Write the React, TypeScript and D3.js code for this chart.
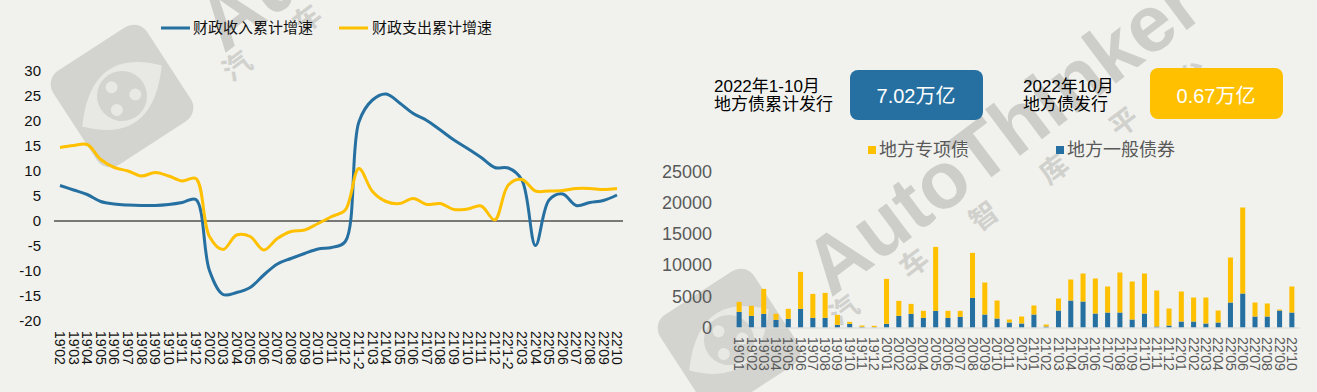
import React from "react";
import * as d3 from "d3";

// ---------- Left chart data ----------
const leftLabels = [
  "19'02","19'03","19'04","19'05","19'06","19'07","19'08","19'09","19'10","19'11","19'12",
  "20'02","20'03","20'04","20'05","20'06","20'07","20'08","20'09","20'10","20'11","20'12",
  "21'1-2","21'03","21'04","21'05","21'06","21'07","21'08","21'09","21'10","21'11","21'12",
  "22'1-2","22'03","22'04","22'05","22'06","22'07","22'08","22'09","22'10",
];
const revenueGrowth = [
  7.1, 6.2, 5.3, 3.9, 3.4, 3.2, 3.1, 3.1, 3.3, 3.7, 4.3,
  -9.9, -14.7, -14.3, -13.3, -10.8, -8.6, -7.5, -6.5, -5.6, -5.3, -4.1,
  19.8, 24.2, 25.4, 23.6, 21.5, 20.1, 18.2, 16.2, 14.5, 12.7, 10.7,
  10.6, 8.2, -4.9, 4.2, 5.4, 3.1, 3.7, 4.1, 5.2,
];
const expenditureGrowth = [
  14.7, 15.1, 15.3, 12.3, 10.7, 10.0, 9.0, 9.7, 9.0, 8.0, 8.5,
  -3.1, -5.7, -2.8, -3.1, -5.8, -3.5, -2.1, -1.8, -0.5, 0.9, 2.2,
  10.5, 5.9, 3.9, 3.5, 4.5, 3.3, 3.5, 2.3, 2.4, 3.0, 0.2,
  7.2, 8.3, 6.0, 6.0, 6.1, 6.5, 6.5, 6.3, 6.5,
];
const leftTicks = [30, 25, 20, 15, 10, 5, 0, -5, -10, -15, -20];
const leftSeriesNames = ["财政收入累计增速", "财政支出累计增速"];

// ---------- Right chart data ----------
const rightLabels = [
  "19'01","19'02","19'03","19'04","19'05","19'06","19'07","19'08","19'09","19'10","19'11","19'12",
  "20'01","20'02","20'03","20'04","20'05","20'06","20'07","20'08","20'09","20'10","20'11","20'12",
  "21'01","21'02","21'03","21'04","21'05","21'06","21'07","21'08","21'09","21'10","21'11","21'12",
  "22'01","22'02","22'03","22'04","22'05","22'06","22'07","22'08","22'09","22'10",
];
const generalBonds = [
  2500, 1870, 2190, 1230, 1390, 2990, 1550, 1550, 430, 590, 110, 50,
  590, 1870, 2190, 1550, 2670, 1550, 1710, 4740, 2080, 1440, 800, 640,
  2080, 160, 2720, 4320, 4160, 2240, 2400, 2400, 1280, 2240, 160, 320,
  960, 960, 640, 800, 4000, 5440, 1760, 1760, 2720, 2400,
];
const specialBonds = [
  1600, 1600, 3990, 960, 1600, 5910, 3830, 3990, 1600, 310, 210, 220,
  7190, 2390, 1590, 1120, 10230, 1120, 960, 7200, 5120, 2880, 480, 1120,
  1440, 320, 1920, 3360, 4480, 5600, 4160, 6400, 6080, 6400, 5760, 2720,
  4800, 3840, 4160, 1920, 7200, 13760, 2240, 2080, 160, 4160,
];
const rightTicks = [0, 5000, 10000, 15000, 20000, 25000];
const rightSeriesNames = ["地方专项债", "地方一般债券"];
const summaryLabels = [["2022年1-10月", "地方债累计发行"], ["2022年10月", "地方债发行"]];
const summaryValues = ["7.02万亿", "0.67万亿"];

const BLUE = "#2570A1";
const YELLOW = "#FFC000";
const BG = "#F1F2EE";
const FONT = "'Liberation Sans', Arial, 'Noto Sans CJK SC', sans-serif";
const NARROW = "'Liberation Sans Narrow', 'Liberation Sans', Arial, sans-serif";

function Logo({ cx, cy }: { cx: number; cy: number }) {
  return (
    <g transform={`translate(${cx},${cy}) rotate(-33)`}>
      <rect x={-56} y={-56} width={112} height={112} rx={16} fill="#d3d3cf" />
      <path d="M-50,4 Q0,-58 50,-4 Q0,58 -50,4 Z" fill="#e8e8e4" />
      <circle cx={0} cy={0} r={25} fill="#d3d3cf" />
      <circle cx={-4} cy={-13} r={6} fill="#e8e8e4" />
      <circle cx={12} cy={6} r={6} fill="#e8e8e4" />
      <circle cx={-12} cy={9} r={6} fill="#e8e8e4" />
    </g>
  );
}

function Watermark({ dx, dy, word, chars }: { dx: number; dy: number; word: string; chars: string[] }) {
  return (
    <g transform={`translate(${dx},${dy})`}>
      <text
        transform="translate(831,298) rotate(-37)"
        fontFamily={FONT}
        fontWeight="bold"
        fontSize={80}
        fill="#cdcdc9"
      >
        {word}
      </text>
      {chars.map((c, i) => (
        <text
          key={c}
          transform={`translate(${850 + i * 70},${318 - i * 47}) rotate(-37)`}
          fontFamily={FONT}
          fontWeight="bold"
          fontSize={28}
          fill="#d0d0cc"
          textAnchor="middle"
        >
          {c}
        </text>
      ))}
    </g>
  );
}

export default function App() {
  // Left chart scales
  const xL = d3.scalePoint<string>().domain(leftLabels).range([60, 617]);
  const yL = d3.scaleLinear().domain([-20, 30]).range([321, 71]);
  const line = d3
    .line<number>()
    .x((_, i) => xL(leftLabels[i]) as number)
    .y((d) => yL(d))
    .curve(d3.curveCatmullRom.alpha(0.5));

  // Right chart scales
  const xR = d3.scaleBand<string>().domain(rightLabels).range([733, 1298]).paddingInner(0.59).paddingOuter(0.295);
  const yR = d3.scaleLinear().domain([0, 25000]).range([327.5, 171.25]);
  const stackData = rightLabels.map((l, i) => ({ label: l, general: generalBonds[i], special: specialBonds[i] }));
  const stacked = d3.stack<any>().keys(["general", "special"])(stackData);
  const stackColors: Record<string, string> = { general: BLUE, special: YELLOW };

  return (
    <svg
      width={1317}
      height={392}
      style={{ position: "absolute", left: 0, top: 0, display: "block" }}
      fontFamily={FONT}
    >
      <rect x={0} y={0} width={1317} height={392} fill={BG} />

      {/* watermarks */}
      <Logo cx={122} cy={96} />
      <Logo cx={729} cy={340} />
      <Watermark dx={-607} dy={-244} word="Au" chars={["汽", "车"]} />
      <Watermark dx={0} dy={0} word="AutoThinker" chars={["汽", "车", "智", "库", "平", "台"]} />

      {/* ---------- Left chart ---------- */}
      <g>
        <line x1={161} x2={190} y1={28} y2={28} stroke={BLUE} strokeWidth={3} />
        <text x={193} y={28} dy="0.35em" fontSize={15} fill="#111">{leftSeriesNames[0]}</text>
        <line x1={339} x2={368} y1={28} y2={28} stroke={YELLOW} strokeWidth={3} />
        <text x={372} y={28} dy="0.35em" fontSize={15} fill="#111">{leftSeriesNames[1]}</text>

        {leftTicks.map((t) => (
          <text key={t} x={41} y={yL(t)} dy="0.35em" textAnchor="end" fontSize={15} fontFamily={NARROW} fill="#111">
            {t}
          </text>
        ))}
        <line x1={54} x2={623} y1={yL(0)} y2={yL(0)} stroke="#000" strokeWidth={1} />
        {leftLabels.map((l) => (
          <text
            key={l}
            transform={`translate(${xL(l)},331) rotate(90)`}
            dy="0.35em"
            fontSize={14}
            fontFamily={NARROW}
            fill="#111"
          >
            {l}
          </text>
        ))}
        <path d={line(revenueGrowth) || ""} fill="none" stroke={BLUE} strokeWidth={3} strokeLinejoin="round" />
        <path d={line(expenditureGrowth) || ""} fill="none" stroke={YELLOW} strokeWidth={3} strokeLinejoin="round" />
      </g>

      {/* ---------- Right summary ---------- */}
      <g>
        <text x={714} y={86} dy="0.35em" fontSize={17} fill="#000">{summaryLabels[0][0]}</text>
        <text x={714} y={104} dy="0.35em" fontSize={17} fill="#000">{summaryLabels[0][1]}</text>
        <rect x={850} y={70} width={133} height={50} rx={8} fill={BLUE} />
        <text x={916} y={96} dy="0.35em" textAnchor="middle" fontSize={20} fill="#fff">{summaryValues[0]}</text>

        <text x={1023} y={86} dy="0.35em" fontSize={17} fill="#000">{summaryLabels[1][0]}</text>
        <text x={1023} y={104} dy="0.35em" fontSize={17} fill="#000">{summaryLabels[1][1]}</text>
        <rect x={1150} y={68} width={133} height={51} rx={8} fill={YELLOW} />
        <text x={1216} y={96} dy="0.35em" textAnchor="middle" fontSize={20} fill="#fff">{summaryValues[1]}</text>
      </g>

      {/* ---------- Right chart ---------- */}
      <g>
        <rect x={868} y={146} width={8} height={8} fill={YELLOW} />
        <text x={879} y={150} dy="0.35em" fontSize={18} fill="#595959">{rightSeriesNames[0]}</text>
        <rect x={1056} y={146} width={8} height={8} fill={BLUE} />
        <text x={1067} y={150} dy="0.35em" fontSize={18} fill="#595959">{rightSeriesNames[1]}</text>

        {rightTicks.map((t) => (
          <text key={t} x={712} y={yR(t)} dy="0.35em" textAnchor="end" fontSize={18} fill="#595959">
            {t}
          </text>
        ))}
        {stacked.map((s) => (
          <g key={s.key} fill={stackColors[s.key]}>
            {s.map((d: any) => (
              <rect
                key={d.data.label}
                x={xR(d.data.label)}
                y={yR(d[1])}
                width={xR.bandwidth()}
                height={Math.max(0, yR(d[0]) - yR(d[1]))}
              />
            ))}
          </g>
        ))}
        <line x1={733} x2={1300} y1={328} y2={328} stroke="#d9d9d9" strokeWidth={1} />
        {rightLabels.map((l) => (
          <text
            key={l}
            transform={`translate(${(xR(l) as number) + xR.bandwidth() / 2},337) rotate(90)`}
            dy="0.35em"
            fontSize={14}
            fill="#595959"
          >
            {l}
          </text>
        ))}
      </g>
    </svg>
  );
}
